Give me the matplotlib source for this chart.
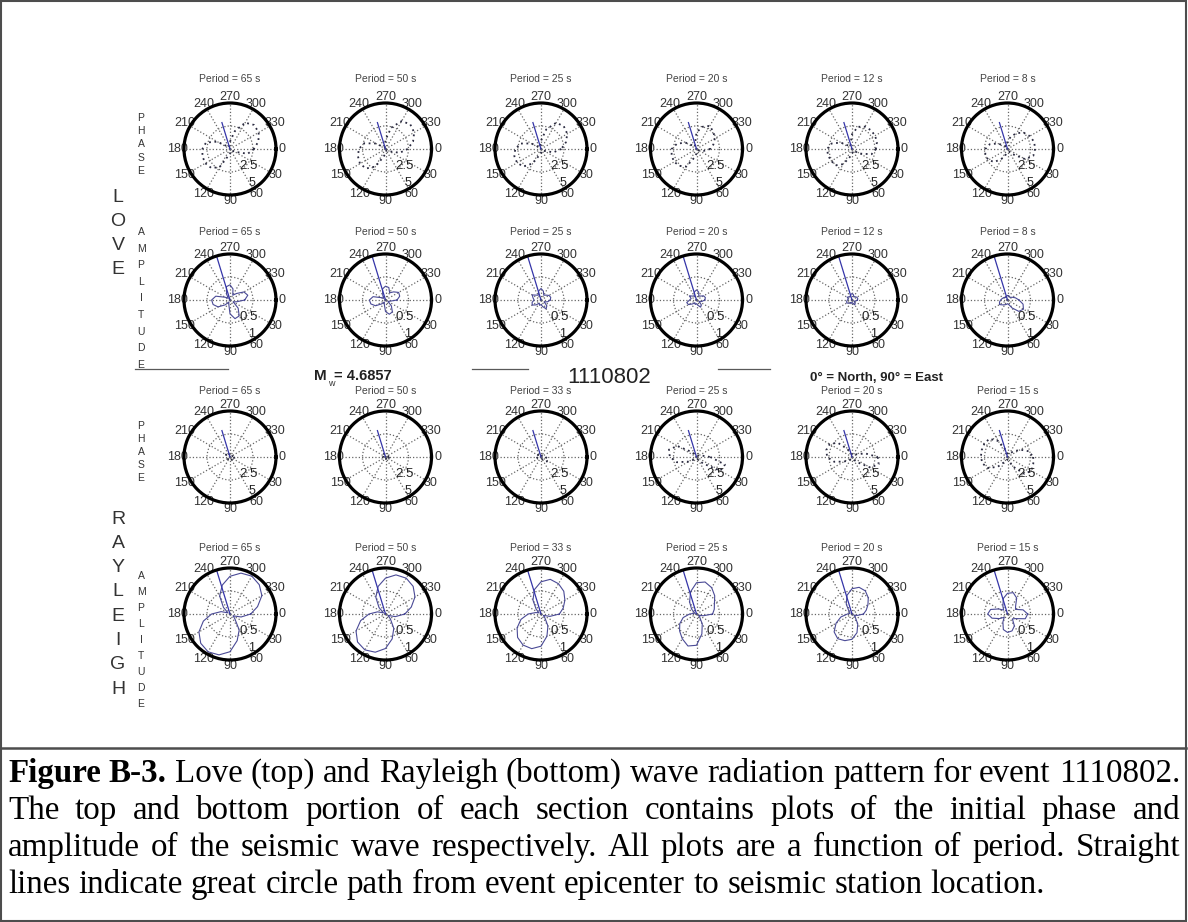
import numpy as np
import matplotlib
matplotlib.use('Agg')
import matplotlib.pyplot as plt
from matplotlib.lines import Line2D
from matplotlib.patches import Rectangle

W, H = 1188, 922

# azimuths (deg, 0 = North plotted at right, clockwise) at which radii were read
azimuths = np.arange(0, 360, 15)

love_periods = [65, 50, 25, 20, 12, 8]
rayleigh_periods = [65, 50, 33, 25, 20, 15]

# Love initial phase (max 5)
love_phase = [
    [2.6, 2.0, 0.6, 0.2, 0.2, 0.3, 0.5, 0.8, 2.3, 2.9, 3.1, 3.1, 3.0, 2.7, 1.6, 0.4, 0.2, 0.3, 0.8, 2.0, 3.3, 3.7, 3.6, 3.2],
    [2.4, 1.6, 0.5, 0.2, 0.2, 0.3, 0.5, 0.9, 2.2, 3.0, 3.2, 3.1, 2.9, 2.4, 1.2, 0.3, 0.2, 0.3, 1.0, 2.4, 3.5, 3.8, 3.6, 3.1],
    [2.2, 1.4, 0.4, 0.2, 0.2, 0.3, 0.4, 0.7, 1.8, 2.7, 3.0, 3.0, 2.8, 2.3, 1.2, 0.3, 0.2, 0.3, 0.9, 2.2, 3.3, 3.5, 3.3, 2.8],
    [1.5, 0.8, 0.3, 0.2, 0.2, 0.3, 0.5, 1.0, 2.2, 2.6, 2.8, 2.8, 2.7, 2.2, 1.4, 0.5, 0.3, 0.6, 1.8, 2.5, 2.9, 2.6, 2.3, 1.9],
    [2.6, 2.2, 1.0, 0.3, 0.2, 0.3, 0.5, 0.9, 1.9, 2.5, 2.6, 2.7, 2.7, 2.3, 1.4, 0.5, 0.3, 0.6, 1.6, 2.5, 2.8, 2.9, 2.9, 2.8],
    [3.0, 2.9, 2.2, 0.8, 0.3, 0.3, 0.4, 0.6, 1.2, 2.0, 2.4, 2.5, 2.4, 2.0, 1.2, 0.5, 0.3, 0.4, 0.8, 1.4, 2.0, 2.5, 2.8, 3.0],
]

# Love amplitude (max 1)
love_amp = [
    [0.32, 0.15, 0.08, 0.25, 0.40, 0.42, 0.30, 0.10, 0.05, 0.15, 0.30, 0.38, 0.40, 0.32, 0.12, 0.05, 0.15, 0.30, 0.33, 0.25, 0.12, 0.20, 0.35, 0.40],
    [0.25, 0.10, 0.06, 0.18, 0.30, 0.32, 0.25, 0.10, 0.05, 0.12, 0.25, 0.33, 0.35, 0.28, 0.10, 0.05, 0.12, 0.25, 0.30, 0.28, 0.18, 0.25, 0.33, 0.32],
    [0.20, 0.15, 0.08, 0.18, 0.22, 0.15, 0.10, 0.12, 0.08, 0.15, 0.22, 0.20, 0.15, 0.18, 0.22, 0.15, 0.12, 0.20, 0.25, 0.20, 0.12, 0.15, 0.20, 0.22],
    [0.18, 0.12, 0.06, 0.15, 0.18, 0.12, 0.08, 0.10, 0.07, 0.12, 0.20, 0.22, 0.15, 0.12, 0.18, 0.12, 0.10, 0.18, 0.22, 0.18, 0.10, 0.12, 0.18, 0.20],
    [0.12, 0.08, 0.05, 0.10, 0.12, 0.08, 0.05, 0.08, 0.06, 0.10, 0.13, 0.12, 0.10, 0.08, 0.12, 0.10, 0.08, 0.12, 0.14, 0.12, 0.08, 0.10, 0.12, 0.13],
    [0.25, 0.35, 0.40, 0.35, 0.20, 0.10, 0.08, 0.10, 0.12, 0.15, 0.20, 0.18, 0.15, 0.12, 0.10, 0.08, 0.06, 0.08, 0.10, 0.10, 0.08, 0.08, 0.12, 0.18],
]

# Rayleigh initial phase (max 5)
rayl_phase = [
    [0.4, 0.5, 0.6, 0.5, 0.3, 0.2, 0.2, 0.3, 0.4, 0.3, 0.2, 0.2, 0.3, 0.4, 0.5, 0.6, 0.5, 0.3, 0.2, 0.2, 0.3, 0.4, 0.3, 0.3],
    [0.3, 0.4, 0.5, 0.4, 0.3, 0.2, 0.2, 0.2, 0.3, 0.3, 0.2, 0.2, 0.3, 0.3, 0.4, 0.5, 0.4, 0.3, 0.2, 0.2, 0.2, 0.3, 0.3, 0.3],
    [0.5, 0.7, 0.9, 0.7, 0.3, 0.2, 0.2, 0.2, 0.2, 0.2, 0.3, 0.4, 0.5, 0.6, 0.5, 0.3, 0.2, 0.3, 0.3, 0.2, 0.2, 0.2, 0.3, 0.4],
    [1.5, 3.2, 3.0, 1.0, 0.3, 0.2, 0.2, 0.2, 0.2, 0.4, 1.0, 2.2, 2.9, 3.1, 2.4, 0.8, 0.3, 0.2, 0.2, 0.2, 0.2, 0.2, 0.3, 0.6],
    [2.8, 3.0, 2.3, 0.8, 0.3, 0.2, 0.2, 0.2, 0.3, 0.5, 1.0, 2.0, 2.7, 2.9, 2.8, 2.2, 1.0, 0.4, 0.3, 0.2, 0.2, 0.3, 0.6, 1.5],
    [2.8, 2.9, 3.0, 2.6, 1.2, 0.4, 0.3, 0.3, 0.6, 1.5, 2.4, 2.8, 2.9, 2.9, 2.9, 2.8, 2.0, 0.8, 0.4, 0.3, 0.4, 0.8, 1.6, 2.4],
]

# Rayleigh amplitude (max 1)
rayl_amp = [
    [0.45, 0.25, 0.08, 0.15, 0.40, 0.60, 0.82, 0.92, 0.95, 0.90, 0.78, 0.60, 0.40, 0.20, 0.05, 0.20, 0.45, 0.65, 0.82, 0.92, 0.95, 0.90, 0.80, 0.62],
    [0.42, 0.22, 0.06, 0.15, 0.36, 0.56, 0.75, 0.86, 0.90, 0.86, 0.74, 0.56, 0.36, 0.18, 0.05, 0.20, 0.42, 0.62, 0.78, 0.88, 0.90, 0.85, 0.74, 0.58],
    [0.40, 0.20, 0.06, 0.12, 0.30, 0.50, 0.70, 0.78, 0.78, 0.72, 0.60, 0.45, 0.28, 0.12, 0.05, 0.15, 0.35, 0.55, 0.70, 0.78, 0.76, 0.70, 0.60, 0.50],
    [0.35, 0.15, 0.05, 0.10, 0.25, 0.45, 0.68, 0.72, 0.62, 0.52, 0.42, 0.30, 0.15, 0.05, 0.05, 0.15, 0.30, 0.50, 0.68, 0.72, 0.66, 0.56, 0.45, 0.40],
    [0.25, 0.12, 0.05, 0.10, 0.25, 0.42, 0.55, 0.60, 0.62, 0.55, 0.40, 0.25, 0.10, 0.05, 0.05, 0.10, 0.25, 0.42, 0.55, 0.60, 0.58, 0.50, 0.40, 0.32],
    [0.44, 0.40, 0.20, 0.15, 0.30, 0.38, 0.40, 0.35, 0.20, 0.10, 0.20, 0.35, 0.43, 0.38, 0.22, 0.12, 0.20, 0.35, 0.45, 0.48, 0.40, 0.25, 0.20, 0.35],
]

station_azimuth = 253   # great circle path to station
event_id = '1110802'
mw = '4.6857'

caption = [
    [('Figure', 'bold'), ('B-3.', 'bold')] + [(w, 'normal') for w in
        'Love (top) and Rayleigh (bottom) wave radiation pattern for event 1110802.'.split()],
    [(w, 'normal') for w in 'The top and bottom portion of each section contains plots of the initial phase and'.split()],
    [(w, 'normal') for w in 'amplitude of the seismic wave respectively. All plots are a function of period. Straight'.split()],
    [(w, 'normal') for w in 'lines indicate great circle path from event epicenter to seismic station location.'.split()],
]

sans = ['Liberation Sans', 'DejaVu Sans']
serif = ['Liberation Serif', 'DejaVu Serif']

fig = plt.figure(figsize=(W / 100, H / 100), dpi=100)


def fx(x):
    return x / W


def fy(y):
    return 1 - y / H


col_x = [230, 385.5, 541, 696.5, 852, 1007.5]
row_y = [149, 300, 457, 614]
title_y = [79, 232, 391, 548]
R = 46


def polar_plot(cx, cy, ty, radii, rmax, rlabels, phase, period):
    ax = fig.add_axes([fx(cx - R), fy(cy + R), 2 * R / W, 2 * R / H], projection='polar')
    ax.set_theta_zero_location('E')
    ax.set_theta_direction(-1)
    ax.set_ylim(0, rmax)
    ax.set_xticks(np.deg2rad(np.arange(0, 360, 30)))
    ax.set_xticklabels([])
    ax.set_yticks([rmax / 2, rmax])
    ax.set_yticklabels([])
    ax.grid(True, ls=':', lw=0.9, color='0.4')
    ax.spines['polar'].set_linewidth(2.3)
    ax.spines['polar'].set_zorder(5)
    ax.patch.set_alpha(0)

    th = np.deg2rad(np.append(azimuths, azimuths[0]))
    r = np.append(radii, radii[0])
    if phase:
        ax.plot(th, r, ls=(0, (1, 2)), lw=1.3, color='#2a2a40')
        ax.plot([0, np.deg2rad(station_azimuth)], [0, rmax * 0.6], color='#3535a8', lw=0.9)
    else:
        ax.plot(th, r, ls='-', lw=0.8, color='#4a4a96')
        ax.plot([0, np.deg2rad(station_azimuth)], [0, rmax], color='#3535a8', lw=0.9)

    for a in range(0, 360, 30):
        ax.text(np.deg2rad(a), rmax * 1.14, str(a), ha='center', va='center',
                fontsize=9, family=sans, color='#333333', zorder=1)
    ax.text(np.deg2rad(42), rmax * 0.55, rlabels[0], ha='center', va='center',
            fontsize=9.5, family=sans, color='#222222')
    ax.text(np.deg2rad(57), rmax * 0.88, rlabels[1], ha='center', va='center',
            fontsize=9, family=sans, color='#222222')
    fig.text(fx(cx), fy(ty), 'Period = %d s' % period, ha='center', va='center',
             fontsize=7.5, family=sans, color='#444444')


for c in range(6):
    polar_plot(col_x[c], row_y[0], title_y[0], love_phase[c], 5, ['2.5', '5'], True, love_periods[c])
    polar_plot(col_x[c], row_y[1], title_y[1], love_amp[c], 1, ['0.5', '1'], False, love_periods[c])
    polar_plot(col_x[c], row_y[2], title_y[2], rayl_phase[c], 5, ['2.5', '5'], True, rayleigh_periods[c])
    polar_plot(col_x[c], row_y[3], title_y[3], rayl_amp[c], 1, ['0.5', '1'], False, rayleigh_periods[c])


# side labels
def column_text(word, x, y0, dy, size):
    for i, ch in enumerate(word):
        fig.text(fx(x), fy(y0 + i * dy), ch, ha='center', va='center',
                 fontsize=size, family=sans, color='#333333')


column_text('LOVE', 118, 198, 24, 14)
column_text('RAYLEIGH', 118, 519, 24.3, 14)
column_text('PHASE', 141, 118, 13.2, 7.5)
column_text('AMPLITUDE', 141, 232, 16.6, 7.5)
column_text('PHASE', 141, 426, 13, 7.5)
column_text('AMPLITUDE', 141, 576, 16, 7.5)

# middle strip
for x0, x1 in [(135, 228), (472, 528), (718, 770)]:
    fig.add_artist(Line2D([fx(x0), fx(x1)], [fy(369), fy(369)], color='0.35', lw=0.9))
fig.text(fx(314), fy(376), 'M', ha='left', va='center', fontsize=11, weight='bold', family=sans, color='#222222')
fig.text(fx(328), fy(384), 'w', ha='left', va='center', fontsize=6.5, family=sans, color='#333333')
fig.text(fx(334), fy(376), '= ' + mw, ha='left', va='center', fontsize=10.5, weight='bold', family=sans, color='#222222')
fig.text(fx(609), fy(377), event_id, ha='center', va='center', fontsize=16, family=sans, color='#222222')
fig.text(fx(810), fy(378), '0° = North, 90° = East', ha='left', va='center', fontsize=9.5,
         weight='bold', family=sans, color='#222222')

# frame and separator
fig.add_artist(Rectangle((fx(1), fy(921)), fx(1185), (921 - 1) / H, transform=fig.transFigure,
                         fill=False, ec='0.3', lw=1.5))
fig.add_artist(Line2D([fx(1), fx(1186)], [fy(748), fy(748)], color='0.3', lw=1.8))

# caption, justified
renderer = fig.canvas.get_renderer()


def word_width(w, weight, size):
    t = fig.text(0, 0, w, fontsize=size, family=serif, weight=weight)
    wd = t.get_window_extent(renderer).width
    t.remove()
    return wd


left, right = 8, 1180
base = 20
space = 0.25 * base * 100 / 72
nat1 = sum(word_width(w, wt, base) for w, wt in caption[0]) + (len(caption[0]) - 1) * space
cap_fs = base * (right - left) / nat1
baselines = [782, 819, 856, 893]
for i, line in enumerate(caption):
    widths = [word_width(w, wt, cap_fs) for w, wt in line]
    if i < 3:
        gap = (right - left - sum(widths)) / (len(line) - 1)
    else:
        gap = 0.25 * cap_fs * 100 / 72
    x = left
    for (w, wt), wd in zip(line, widths):
        fig.text(fx(x), fy(baselines[i]), w, ha='left', va='baseline', fontsize=cap_fs,
                 family=serif, weight=wt, color='black')
        x += wd + gap

fig.savefig('out.png', dpi=100)
